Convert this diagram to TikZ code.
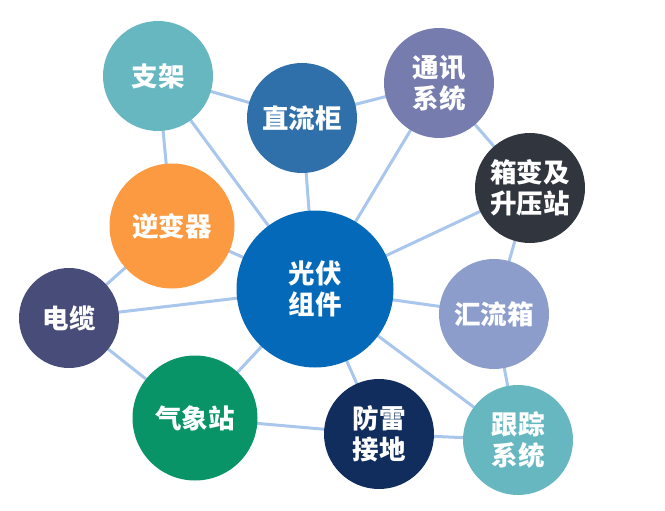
\documentclass[tikz,border=0pt]{standalone}
\usepackage{fontspec}
\usetikzlibrary{backgrounds}
\IfFontExistsTF{Noto Sans CJK SC Black}
  {\newfontfamily\cjk{Noto Sans CJK SC Black}}
  {\newfontfamily\cjk{Noto Sans CJK SC Bold}}
\definecolor{cTeal}{HTML}{67B7C1}
\definecolor{cDC}{HTML}{2F6FAA}
\definecolor{cComm}{HTML}{767DAE}
\definecolor{cBox}{HTML}{30353E}
\definecolor{cInv}{HTML}{FB9A40}
\definecolor{cPV}{HTML}{0569BA}
\definecolor{cCable}{HTML}{474D78}
\definecolor{cComb}{HTML}{8C9DCB}
\definecolor{cWx}{HTML}{089467}
\definecolor{cLight}{HTML}{112D5E}
\definecolor{cLine}{HTML}{A9C6EC}
\begin{document}
\begin{tikzpicture}[x=1pt,y=1pt,
  ball/.style={circle, fill=#1, text=white, inner sep=0pt, align=center,
    font=\cjk\fontsize{26.5}{31}\selectfont},
  link/.style={draw=cLine, line width=3pt}]
\useasboundingbox (0,0) rectangle (665,-511);
\node[ball=cTeal, minimum size=110pt] (zj) at (158,-76) {支架};
\node[ball=cDC, minimum size=110pt] (zl) at (302,-118) {直流柜};
\node[ball=cComm, minimum size=110pt] (tx) at (439,-83) {通讯\\系统};
\node[ball=cBox, minimum size=110pt] (xb) at (530,-188) {箱变及\\升压站};
\node[ball=cInv, minimum size=125pt] (nb) at (172,-226) {逆变器};
\node[ball=cPV, minimum size=157pt] (gf) at (315,-289) {光伏\\组件};
\node[ball=cCable, minimum size=100pt] (dl) at (69,-318) {电缆};
\node[ball=cComb, minimum size=110pt] (hl) at (494,-314) {汇流箱};
\node[ball=cWx, minimum size=125pt] (qx) at (195,-418) {气象站};
\node[ball=cLight, minimum size=110pt] (fl) at (379,-434) {防雷\\接地};
\node[ball=cTeal, minimum size=110pt] (gz) at (518,-440) {跟踪\\系统};
\begin{scope}[on background layer]
\draw[link] (zj.center) -- (zl.center);
\draw[link] (zj.center) -- (nb.center);
\draw[link] (zj.center) -- (gf.center);
\draw[link] (zl.center) -- (tx.center);
\draw[link] (zl.center) -- (gf.center);
\draw[link] (tx.center) -- (gf.center);
\draw[link] (tx.center) -- (xb.center);
\draw[link] (xb.center) -- (gf.center);
\draw[link] (xb.center) -- (hl.center);
\draw[link] (nb.center) -- (dl.center);
\draw[link] (nb.center) -- (gf.center);
\draw[link] (dl.center) -- (gf.center);
\draw[link] (dl.center) -- (qx.center);
\draw[link] (qx.center) -- (gf.center);
\draw[link] (qx.center) -- (fl.center);
\draw[link] (gf.center) -- (hl.center);
\draw[link] (gf.center) -- (fl.center);
\draw[link] (gf.center) -- (gz.center);
\draw[link] (hl.center) -- (gz.center);
\draw[link] (fl.center) -- (gz.center);
\end{scope}
\end{tikzpicture}
\end{document}
